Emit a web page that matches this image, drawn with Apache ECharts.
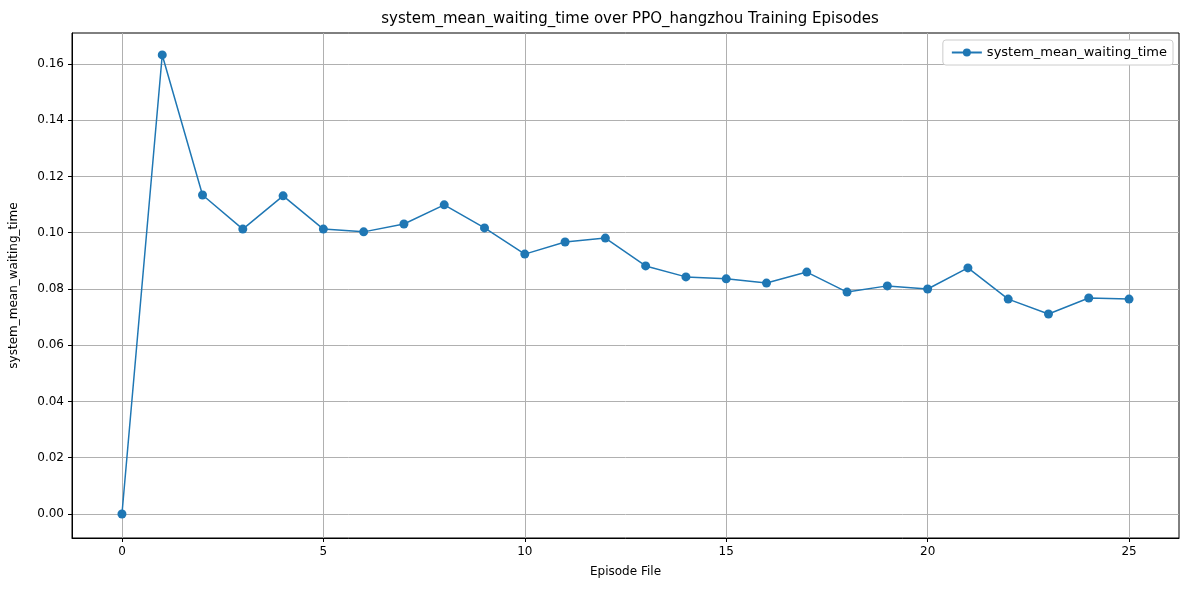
<!DOCTYPE html>
<html>
<head>
<meta charset="utf-8">
<script src="https://cdn.jsdelivr.net/npm/echarts@6/dist/echarts.min.js"></script>
<style>
  html, body { margin: 0; padding: 0; background: #fff; }
  #chart { width: 1189px; height: 590px; }
</style>
</head>
<body>
<div id="chart"></div>
<script>
// episodes and values
var episodes = [0,1,2,3,4,5,6,7,8,9,10,11,12,13,14,15,16,17,18,19,20,21,22,23,24,25];
var waiting = [0, 0.1632, 0.1134, 0.1013, 0.1131, 0.1013, 0.1003, 0.1031, 0.1099, 0.1017,
  0.0924, 0.0967, 0.0981, 0.0882, 0.0843, 0.0836, 0.0821, 0.0860, 0.0789, 0.0811,
  0.0800, 0.0875, 0.0764, 0.0711, 0.0768, 0.0764];
var xTicks = [0, 5, 10, 15, 20, 25];
var yTicks = [0, 0.02, 0.04, 0.06, 0.08, 0.10, 0.12, 0.14, 0.16];

var font = 'DejaVu Sans';
var chart = echarts.init(document.getElementById('chart'));
chart.setOption({
  animation: false,
  textStyle: { fontFamily: font },
  title: {
    text: 'system_mean_waiting_time over PPO_hangzhou Training Episodes',
    left: 625, top: 7, textAlign: 'center',
    textStyle: { fontSize: 15, fontWeight: 'normal', color: '#000', fontFamily: font }
  },
  legend: {
    right: 16, top: 40, orient: 'vertical',
    backgroundColor: '#fff', borderColor: '#ccc', borderWidth: 1, borderRadius: 3,
    padding: [6, 6, 6, 8], itemWidth: 30, itemHeight: 10, itemGap: 6,
    textStyle: { fontSize: 13, color: '#000', fontFamily: font },
    data: ['system_mean_waiting_time']
  },
  grid: { left: 71, right: 10, top: 33, bottom: 52, show: true, borderColor: '#000', borderWidth: 1 },
  xAxis: {
    type: 'value', min: -1.24, max: 26.24,
    name: 'Episode File', nameLocation: 'middle', nameGap: 28,
    nameTextStyle: { fontSize: 12, color: '#000' },
    axisLine: { show: true, onZero: false, lineStyle: { color: '#000' } },
    axisTick: { show: true, customValues: xTicks, length: 4, lineStyle: { color: '#000' } },
    axisLabel: { customValues: xTicks, color: '#000', fontSize: 12, margin: 8 },
    splitLine: { show: true, lineStyle: { color: '#b0b0b0', width: 1 } }
  },
  yAxis: {
    type: 'value', min: -0.00853, max: 0.1710,
    name: 'system_mean_waiting_time', nameLocation: 'middle', nameGap: 52,
    nameTextStyle: { fontSize: 12, color: '#000' },
    axisLine: { show: true, onZero: false, lineStyle: { color: '#000' } },
    axisTick: { show: true, customValues: yTicks, length: 4, lineStyle: { color: '#000' } },
    axisLabel: { customValues: yTicks, color: '#000', fontSize: 12, margin: 8,
      formatter: function (v) { return v.toFixed(2); } },
    splitLine: { show: true, lineStyle: { color: '#b0b0b0', width: 1 } }
  },
  series: [{
    name: 'system_mean_waiting_time',
    type: 'line',
    data: episodes.map(function (e, i) { return [e, waiting[i]]; }),
    symbol: 'circle', symbolSize: 9,
    lineStyle: { color: '#1f77b4', width: 1.5 },
    itemStyle: { color: '#1f77b4' }
  }]
});
</script>
</body>
</html>
